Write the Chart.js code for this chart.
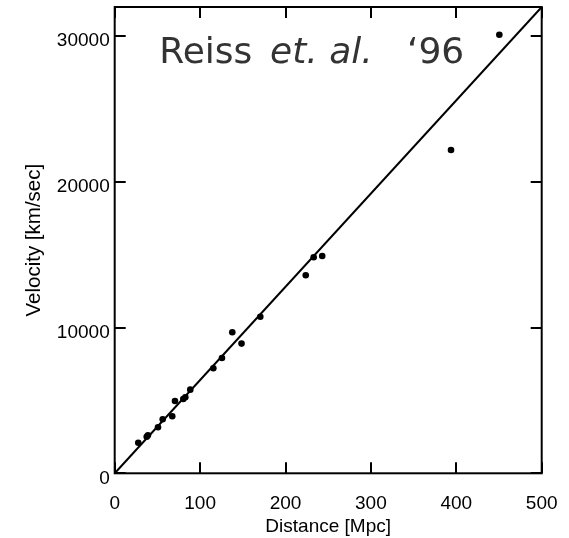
<!DOCTYPE html>
<html>
<head>
<meta charset="utf-8">
<script src="https://cdn.jsdelivr.net/npm/chart.js@4"></script>
<style>
  html, body { margin: 0; padding: 0; background: #fff; }
  #wrap { width: 569px; height: 538px; }
</style>
</head>
<body>
<div id="wrap"><canvas id="c" width="569" height="538"></canvas></div>
<script>
// Observed supernova distances (Mpc) and velocities (km/s)
const distances = [27.6, 37.5, 38.9, 50.7, 56.2, 67.4, 70.6, 80.3, 82.7, 88.5, 115.5, 125.6, 137.7, 148.5, 170.5, 223.7, 233.0, 243.0, 393.8, 450.4];
const velocities = [2100, 2510, 2610, 3160, 3710, 3910, 4960, 5100, 5220, 5740, 7210, 7910, 9680, 8900, 10740, 13590, 14830, 14910, 22190, 30100];
// Hubble-law fit line
const fitDistances = [0, 500];
const fitVelocities = [0, 32000];
// Tick values
const xTicks = [0, 100, 200, 300, 400, 500];
const yTicks = [0, 10000, 20000, 30000];
// Annotation parts (text, italic, x position in Mpc)
const annoTexts = ["Reiss", "et. al.", "\u201896"];
const annoItalic = [false, true, false];
const annoX = [52.2, 181.9, 342.3];
const annoY = 28140;

const points = distances.map((d, i) => ({ x: d, y: velocities[i] }));
const fit = fitDistances.map((d, i) => ({ x: d, y: fitVelocities[i] }));

const framePlugin = {
  id: 'frame',
  afterDatasetsDraw(chart) {
    const { ctx, chartArea: a, scales } = chart;
    ctx.save();
    ctx.strokeStyle = '#000';
    ctx.lineWidth = 2;
    ctx.strokeRect(a.left, a.top, a.right - a.left, a.bottom - a.top);
    const L = 11;
    ctx.beginPath();
    xTicks.forEach(v => {
      const px = Math.round(scales.x.getPixelForValue(v));
      ctx.moveTo(px, a.bottom); ctx.lineTo(px, a.bottom - L);
      ctx.moveTo(px, a.top); ctx.lineTo(px, a.top + L);
    });
    yTicks.forEach(v => {
      const py = Math.round(scales.y.getPixelForValue(v));
      ctx.moveTo(a.left, py); ctx.lineTo(a.left + L, py);
      ctx.moveTo(a.right, py); ctx.lineTo(a.right - L, py);
    });
    ctx.stroke();
    // annotation text
    const y = scales.y.getPixelForValue(annoY);
    ctx.fillStyle = '#333';
    ctx.textBaseline = 'alphabetic';
    ctx.textAlign = 'left';
    annoTexts.forEach((t, i) => {
      ctx.font = (annoItalic[i] ? 'oblique ' : '') + '36px "DejaVu Sans"';
      ctx.fillText(t, scales.x.getPixelForValue(annoX[i]), y);
    });
    ctx.restore();
  }
};

const tickFont = { family: '"Liberation Sans", Arial', size: 19 };

new Chart(document.getElementById('c'), {
  type: 'scatter',
  data: {
    datasets: [
      {
        type: 'line',
        data: fit,
        borderColor: '#000',
        borderWidth: 2,
        pointRadius: 0,
        fill: false,
        order: 2
      },
      {
        data: points,
        backgroundColor: '#000',
        borderColor: '#000',
        pointRadius: 3.3,
        borderWidth: 0,
        order: 1
      }
    ]
  },
  options: {
    responsive: false,
    animation: false,
    events: [],
    layout: { padding: { left: 0, right: 27.3, top: 7, bottom: 0 } },
    plugins: { legend: { display: false }, tooltip: { enabled: false } },
    scales: {
      x: {
        type: 'linear',
        min: 0, max: 500,
        afterFit(s) { s.height = 64.7; s.paddingLeft = 0; s.paddingRight = 0; },
        afterBuildTicks(s) { s.ticks = xTicks.map(v => ({ value: v })); },
        grid: { display: false, drawTicks: false },
        border: { display: false },
        ticks: { color: '#000', padding: 19, maxRotation: 0, font: tickFont, callback: v => String(v) },
        title: { display: true, text: 'Distance [Mpc]', color: '#000', padding: { top: 0, bottom: 0 }, font: tickFont }
      },
      y: {
        type: 'linear',
        min: 0, max: 32000,
        afterFit(s) { s.width = 114.7; s.paddingTop = 0; s.paddingBottom = 0; },
        afterBuildTicks(s) { s.ticks = yTicks.map(v => ({ value: v })); },
        grid: { display: false, drawTicks: false },
        border: { display: false },
        ticks: { color: '#000', padding: 5, labelOffset: 5, font: tickFont, callback: v => String(v) },
        title: { display: true, text: 'Velocity [km/sec]', color: '#000', padding: { top: 22.2, bottom: 0 }, font: { family: '"Liberation Sans", Arial', size: 20.5 } }
      }
    }
  },
  plugins: [framePlugin]
});
</script>
</body>
</html>
